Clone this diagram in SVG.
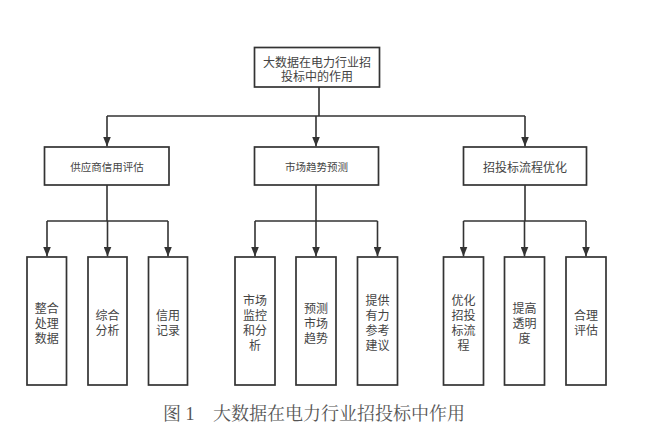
<svg xmlns="http://www.w3.org/2000/svg" width="649" height="439" viewBox="0 0 649 439">
<style>
.box{fill:#fff;stroke:#333;stroke-width:1.7}
.ln{fill:none;stroke:#333;stroke-width:1.6}
.t{font-family:"Noto Sans CJK SC","Liberation Sans",sans-serif;fill:#444;text-anchor:middle;dominant-baseline:central}
.t12{font-size:12px}
.t10{font-size:10.5px}
.cap{font-family:"Liberation Serif","Noto Serif CJK SC","Noto Sans CJK SC",serif;font-size:18px;fill:#555}
</style>
<defs>
<marker id="arr" viewBox="0 0 10 8" refX="10" refY="4" markerWidth="10" markerHeight="8" markerUnits="userSpaceOnUse" orient="auto">
<path d="M0,0 L10,4 L0,8 z" fill="#333"/>
</marker>
</defs>
<rect width="649" height="439" fill="#fff"/>
<g id="connectors">
<path class="ln" d="M319,87 V116 M107,116 H525"/>
<path class="ln" d="M107,116 V146.5" marker-end="url(#arr)"/>
<path class="ln" d="M316,116 V146.5" marker-end="url(#arr)"/>
<path class="ln" d="M525,116 V146.5" marker-end="url(#arr)"/>
<path class="ln" d="M107,185 V221 M47,221 H168"/>
<path class="ln" d="M47,221 V256.5" marker-end="url(#arr)"/>
<path class="ln" d="M107.5,221 V256.5" marker-end="url(#arr)"/>
<path class="ln" d="M168,221 V256.5" marker-end="url(#arr)"/>
<path class="ln" d="M316,185 V221 M255,221 H377.5"/>
<path class="ln" d="M255,221 V256.5" marker-end="url(#arr)"/>
<path class="ln" d="M316,221 V256.5" marker-end="url(#arr)"/>
<path class="ln" d="M377.5,221 V256.5" marker-end="url(#arr)"/>
<path class="ln" d="M525,185 V221 M463.5,221 H586"/>
<path class="ln" d="M463.5,221 V256.5" marker-end="url(#arr)"/>
<path class="ln" d="M524.5,221 V256.5" marker-end="url(#arr)"/>
<path class="ln" d="M586,221 V256.5" marker-end="url(#arr)"/>
</g>
<g id="root">
<rect class="box" x="254.5" y="47.5" width="125" height="39.5"/>
<text class="t t12"><tspan x="317" y="60.5">大数据在电力行业招</tspan><tspan x="317" y="74.5">投标中的作用</tspan></text>
</g>
<g id="n-supplier">
<rect class="box" x="44.5" y="147" width="124.5" height="38"/>
<text class="t t10" x="107" y="166">供应商信用评估</text>
</g>
<g id="n-market">
<rect class="box" x="254.5" y="147" width="124" height="38"/>
<text class="t t10" x="316.5" y="166">市场趋势预测</text>
</g>
<g id="n-process">
<rect class="box" x="463.5" y="147" width="123" height="38"/>
<text class="t t12" x="525" y="166">招投标流程优化</text>
</g>
<g id="n1">
<rect class="box" x="27" y="257" width="39.5" height="128"/>
<text class="t t12"><tspan x="46.7" y="306.5">整合</tspan><tspan x="46.7" y="321.5">处理</tspan><tspan x="46.7" y="336.5">数据</tspan></text>
</g>
<g id="n2">
<rect class="box" x="88" y="257" width="39" height="128"/>
<text class="t t12"><tspan x="107.5" y="314">综合</tspan><tspan x="107.5" y="329">分析</tspan></text>
</g>
<g id="n3">
<rect class="box" x="148.5" y="257" width="39" height="128"/>
<text class="t t12"><tspan x="168" y="314">信用</tspan><tspan x="168" y="329">记录</tspan></text>
</g>
<g id="n4">
<rect class="box" x="235" y="257" width="40" height="128"/>
<text class="t t12"><tspan x="255" y="299">市场</tspan><tspan x="255" y="314">监控</tspan><tspan x="255" y="329">和分</tspan><tspan x="255" y="344">析</tspan></text>
</g>
<g id="n5">
<rect class="box" x="296" y="257" width="40" height="128"/>
<text class="t t12"><tspan x="316" y="306.5">预测</tspan><tspan x="316" y="321.5">市场</tspan><tspan x="316" y="336.5">趋势</tspan></text>
</g>
<g id="n6">
<rect class="box" x="357.5" y="257" width="40" height="128"/>
<text class="t t12"><tspan x="377.5" y="299">提供</tspan><tspan x="377.5" y="314">有力</tspan><tspan x="377.5" y="329">参考</tspan><tspan x="377.5" y="344">建议</tspan></text>
</g>
<g id="n7">
<rect class="box" x="443.5" y="257" width="40" height="128"/>
<text class="t t12"><tspan x="463.5" y="299">优化</tspan><tspan x="463.5" y="314">招投</tspan><tspan x="463.5" y="329">标流</tspan><tspan x="463.5" y="344">程</tspan></text>
</g>
<g id="n8">
<rect class="box" x="504.5" y="257" width="40" height="128"/>
<text class="t t12"><tspan x="524.5" y="306.5">提高</tspan><tspan x="524.5" y="321.5">透明</tspan><tspan x="524.5" y="336.5">度</tspan></text>
</g>
<g id="n9">
<rect class="box" x="566" y="257" width="40" height="128"/>
<text class="t t12"><tspan x="586" y="314">合理</tspan><tspan x="586" y="329">评估</tspan></text>
</g>
<text class="cap" y="420"><tspan x="163">图 1</tspan><tspan x="213">大数据在电力行业招投标中作用</tspan></text>
</svg>
